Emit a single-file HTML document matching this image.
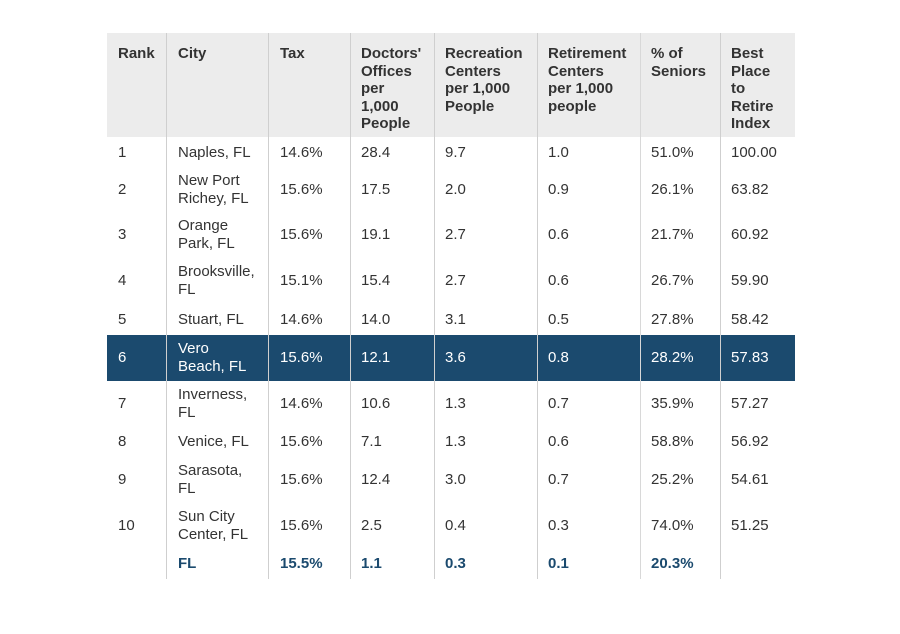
<!DOCTYPE html>
<html><head><meta charset="utf-8"><style>
body{margin:0;width:900px;height:634px;background:#fff;position:relative;font-family:"Liberation Sans",Arial,sans-serif;font-size:15px;color:#333;overflow:hidden}
.hdr{position:absolute;left:107px;top:33px;width:688px;height:104px;background:#ececec}
.hl{position:absolute;left:107px;top:335px;width:688px;height:46px;background:#1b4a6e}
.vl{position:absolute;top:33px;height:546px;width:1px;background:#cfcfcf}
.row{position:absolute;left:0;width:900px;display:flex;align-items:center}
.c{position:absolute;line-height:17.6px}
.h .c{font-weight:bold;top:12px}
.w{color:#fff}
.fl{color:#1b4a6e;font-weight:bold}
</style></head><body>
<div class="hdr"></div>
<div class="hl"></div>
<div class="vl" style="left:166px"></div>
<div class="vl" style="left:268px"></div>
<div class="vl" style="left:350px"></div>
<div class="vl" style="left:434px"></div>
<div class="vl" style="left:537px"></div>
<div class="vl" style="left:640px;background:#d8d8d8"></div>
<div class="vl" style="left:720px"></div>

<div class="row h" style="top:33px;height:104px;align-items:flex-start">
<div class="c" style="left:118px">Rank</div>
<div class="c" style="left:178px">City</div>
<div class="c" style="left:280px">Tax</div>
<div class="c" style="left:361px">Doctors'<br>Offices<br>per<br>1,000<br>People</div>
<div class="c" style="left:445px">Recreation<br>Centers<br>per 1,000<br>People</div>
<div class="c" style="left:548px">Retirement<br>Centers<br>per 1,000<br>people</div>
<div class="c" style="left:651px">% of<br>Seniors</div>
<div class="c" style="left:731px">Best<br>Place<br>to<br>Retire<br>Index</div>
</div>

<div id="rows"></div>
<script>
var rows=[
[137,31,"1","Naples, FL","14.6%","28.4","9.7","1.0","51.0%","100.00"],
[168,44,"2","New Port<br>Richey, FL","15.6%","17.5","2.0","0.9","26.1%","63.82"],
[212,46,"3","Orange<br>Park, FL","15.6%","19.1","2.7","0.6","21.7%","60.92"],
[258,46,"4","Brooksville,<br>FL","15.1%","15.4","2.7","0.6","26.7%","59.90"],
[304,31,"5","Stuart, FL","14.6%","14.0","3.1","0.5","27.8%","58.42"],
[335,46,"6","Vero<br>Beach, FL","15.6%","12.1","3.6","0.8","28.2%","57.83","w"],
[381,46,"7","Inverness,<br>FL","14.6%","10.6","1.3","0.7","35.9%","57.27"],
[427,30,"8","Venice, FL","15.6%","7.1","1.3","0.6","58.8%","56.92"],
[457,46,"9","Sarasota,<br>FL","15.6%","12.4","3.0","0.7","25.2%","54.61"],
[503,46,"10","Sun City<br>Center, FL","15.6%","2.5","0.4","0.3","74.0%","51.25"],
[549,30,"","FL","15.5%","1.1","0.3","0.1","20.3%","","fl"]];
var xs=[118,178,280,361,445,548,651,731],h="";
rows.forEach(function(r){
h+='<div class="row '+(r[10]||"")+'" style="top:'+r[0]+'px;height:'+r[1]+'px">';
for(var i=0;i<8;i++){h+='<div class="c" style="left:'+xs[i]+'px;position:absolute">'+r[i+2]+'</div>';}
h+='</div>';});
document.getElementById("rows").innerHTML=h;
</script>
</body></html>
